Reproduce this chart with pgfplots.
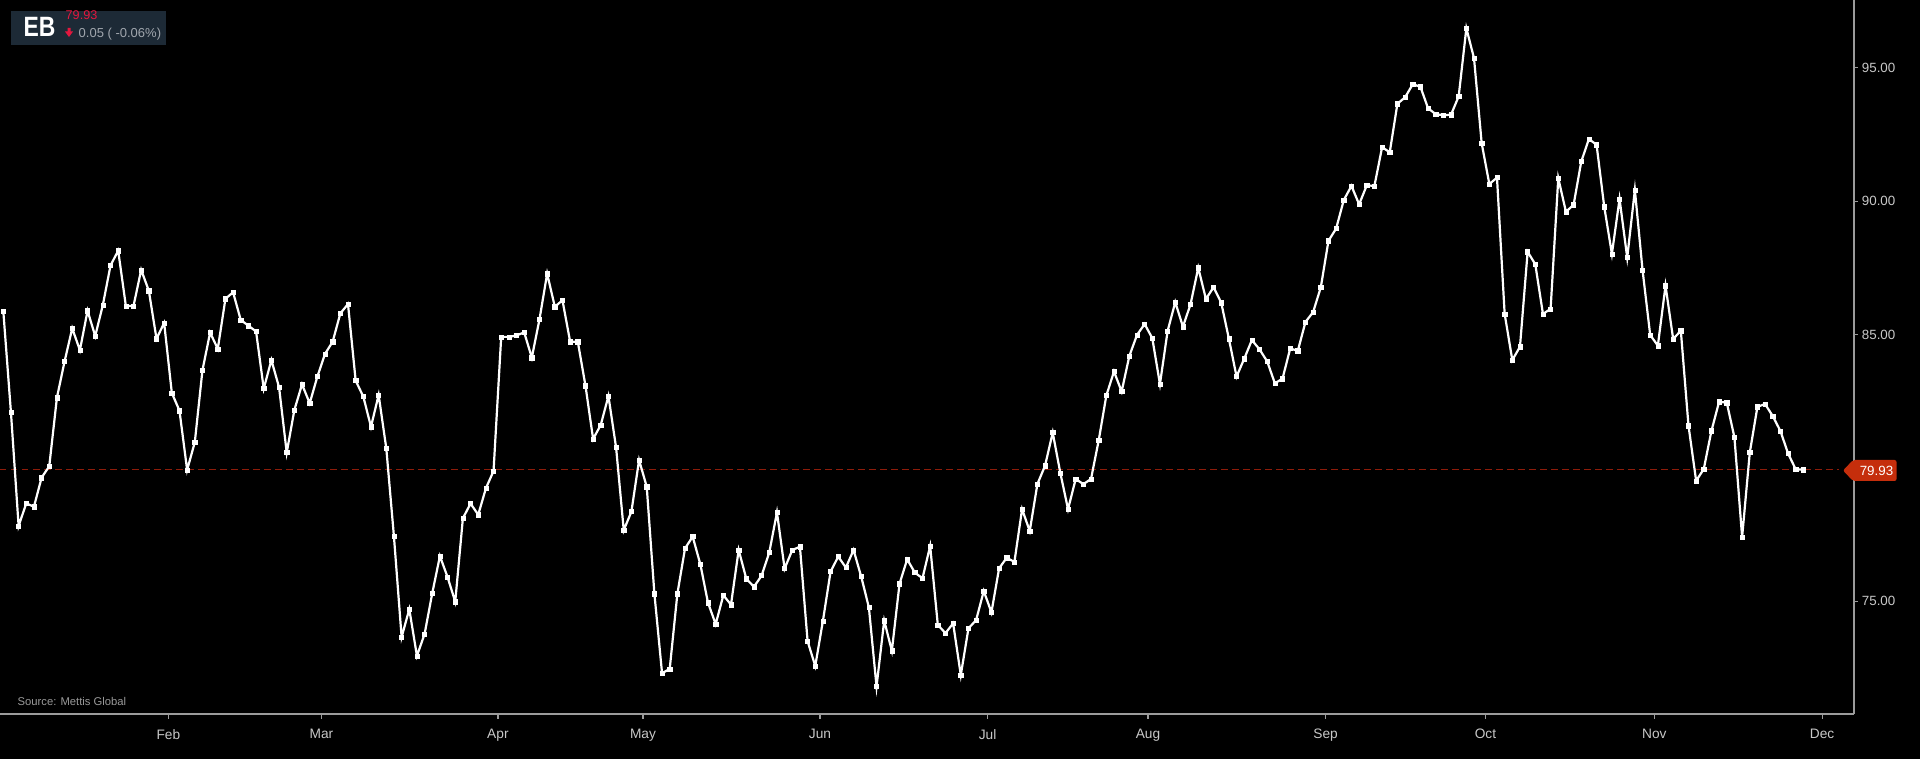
\documentclass[border=0pt]{standalone}
\usepackage{fontspec}
\setmainfont{Liberation Sans}
\usepackage{graphicx}
\usepackage{pgfplots}
\usepackage{pgfplotstable}
\pgfplotsset{compat=1.18}
\definecolor{axisgray}{HTML}{9B9B9B}
\definecolor{lblgray}{HTML}{C8C8C8}
\definecolor{badge}{HTML}{1D2A36}
\definecolor{pricered}{HTML}{E4173E}
\definecolor{txtgray}{HTML}{A0A6AD}
\definecolor{lastred}{HTML}{C52E0C}
\definecolor{dashred}{HTML}{8E1C0A}
\definecolor{srcgray}{HTML}{9A9A9A}

\pgfplotstableread{
v
85.88
82.07
77.82
78.67
78.54
79.63
80.06
82.63
83.99
85.23
84.41
85.89
84.94
86.11
87.59
88.14
86.07
86.07
87.42
86.64
84.84
85.43
82.81
82.14
79.92
80.96
83.66
85.07
84.46
86.34
86.58
85.54
85.33
85.11
82.97
84.04
83.02
80.57
82.17
83.13
82.42
83.42
84.27
84.73
85.79
86.14
83.27
82.67
81.54
82.73
80.73
77.42
73.65
74.70
72.95
73.77
75.30
76.69
75.90
74.98
78.11
78.66
78.24
79.23
79.88
84.91
84.91
84.96
85.08
84.13
85.57
87.28
86.04
86.28
84.73
84.73
83.08
81.08
81.61
82.69
80.76
77.66
78.36
80.29
79.29
75.28
72.30
72.46
75.28
76.98
77.42
76.38
74.94
74.14
75.22
74.87
76.92
75.84
75.54
75.96
76.83
78.33
76.22
76.92
77.04
73.50
72.57
74.26
76.11
76.67
76.26
76.92
75.92
74.77
71.80
74.27
73.14
75.65
76.57
76.07
75.86
77.07
74.11
73.80
74.17
72.23
73.98
74.29
75.38
74.58
76.23
76.63
76.47
78.45
77.63
79.39
80.08
81.32
79.80
78.45
79.58
79.39
79.58
81.02
82.71
83.61
82.86
84.19
84.98
85.39
84.86
83.14
85.13
86.21
85.29
86.14
87.50
86.33
86.77
86.19
84.84
83.42
84.09
84.79
84.44
83.99
83.17
83.34
84.47
84.39
85.47
85.84
86.77
88.51
88.97
90.04
90.57
89.88
90.59
90.57
92.02
91.83
93.65
93.89
94.38
94.29
93.48
93.26
93.22
93.24
93.93
96.48
95.36
92.17
90.64
90.88
85.77
84.04
84.54
88.10
87.63
85.77
85.96
90.86
89.60
89.86
91.48
92.33
92.11
89.79
88.02
90.08
87.88
90.42
87.42
84.98
84.58
86.83
84.83
85.14
81.58
79.51
79.96
81.39
82.48
82.44
81.14
77.40
80.57
82.29
82.39
81.94
81.38
80.54
79.94
79.93
}\ebdata

\begin{document}
\begin{tikzpicture}
\fill[black] (0,0) rectangle (19.2,7.59);
\begin{axis}[
  scale only axis,
  width=18.537cm, height=7.14cm,
  at={(0cm,0.45cm)}, anchor=south west,
  xmin=-0.431, xmax=241.57,
  ymin=70.77, ymax=97.54,
  axis x line=bottom, axis y line=right,
  axis line style={-, draw=axisgray, line width=0.16mm},
  tick align=outside,
  major tick length=0.045cm,
  tick style={draw=axisgray, line width=0.12mm},
  xtick={21.55,41.54,64.57,83.51,106.62,128.50,149.44,172.62,193.49,215.55,237.45},
  xticklabels={Feb,Mar,Apr,May,Jun,Jul,Aug,Sep,Oct,Nov,Dec},
  ytick={75,85,90,95},
  /pgf/number format/.cd, fixed, fixed zerofill, precision=2, assume math mode=true,
  /pgfplots/.cd,
  x tick label style={font=\fontsize{3.9}{4}\selectfont, text=lblgray, anchor=north, inner sep=0pt, yshift=-0.1cm},
  y tick label style={font=\fontsize{3.8}{4}\selectfont, text=lblgray, anchor=west, inner sep=0pt, xshift=0.03cm},
  clip=false,
]
\addplot[dashred, line width=0.1mm, dash pattern=on 0.65mm off 0.45mm] coordinates {(-0.431,79.93) (239.6,79.93)};
\addplot[white, line width=0.22mm, mark=square*, mark size=0.21mm, mark options={fill=white, draw=white, line width=0.05mm}]
  table[x expr=\coordindex, y=v] {\ebdata};
\end{axis}
% last value label
\fill[lastred, rounded corners=0.2mm] (18.43,2.885) -- (18.53,2.99) -- (18.965,2.99) -- (18.965,2.78) -- (18.53,2.78) -- cycle;
\node[anchor=center, inner sep=0pt, text=white, font=\fontsize{3.8}{4}\selectfont] at (18.765,2.885) {79.93};
% badge
\fill[badge] (0.11,7.48) rectangle (1.66,7.14);
\node[anchor=base west, inner sep=0pt, text=white] at (0.23,7.22) {\scalebox{0.82}[1]{\fontsize{7.95}{8}\selectfont\bfseries EB}};
\node[anchor=base west, inner sep=0pt, text=pricered, font=\fontsize{3.6}{3.6}\selectfont] at (0.65,7.395) {79.93};
\fill[pricered] (0.675,7.31) -- (0.705,7.31) -- (0.705,7.275) -- (0.73,7.275) -- (0.69,7.22) -- (0.65,7.275) -- (0.675,7.275) -- cycle;
\node[anchor=base west, inner sep=0pt, text=txtgray, font=\fontsize{3.7}{3.7}\selectfont] at (0.78,7.21) {0.05 ( -0.06\%)};
% source
\node[anchor=base west, inner sep=0pt, text=srcgray, font=\fontsize{3.2}{4}\selectfont] at (0.17,0.54) {Source: Mettis Global};
\pgfresetboundingbox
\useasboundingbox (0,0) rectangle (19.2,7.59);
\end{tikzpicture}
\end{document}
